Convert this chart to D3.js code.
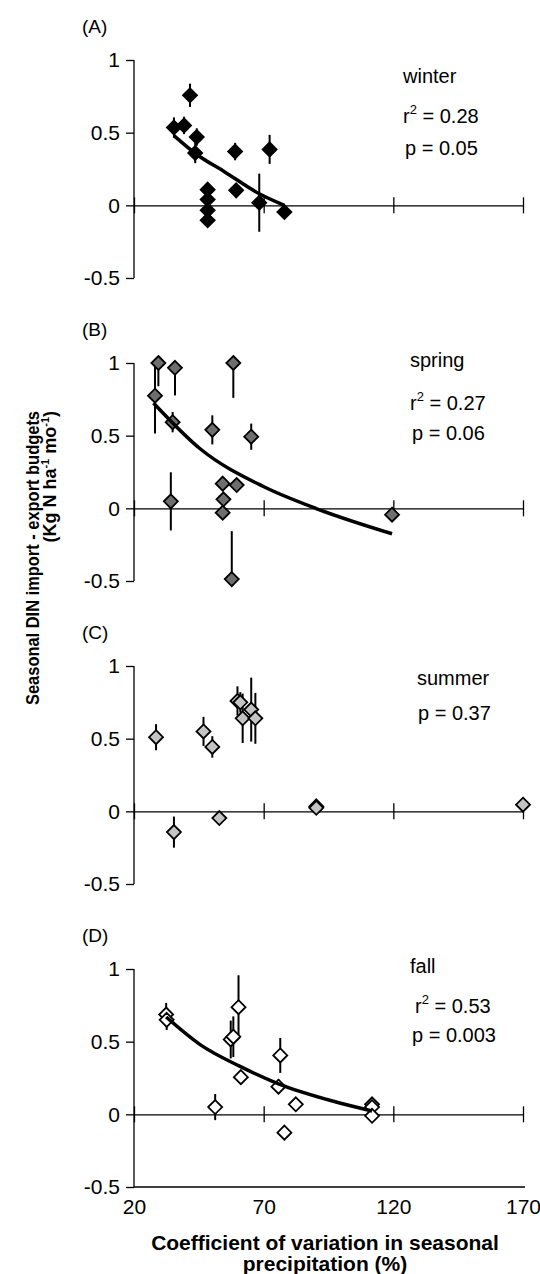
<!DOCTYPE html>
<html><head><meta charset="utf-8">
<script src="https://cdn.jsdelivr.net/npm/d3@7"></script>
<style>
body{margin:0;background:#fff}
text{font-family:"Liberation Sans",Arial,Helvetica,sans-serif;fill:#000}
</style>
</head><body>
<svg id="chart" width="540" height="1274"></svg>
<script>
// ---------- data ----------
const xTicks = [20, 70, 120, 170];
const yTicks = [1, 0.5, 0, -0.5];
const yTickLabels = ["1", "0.5", "0", "-0.5"];
const panelLabels = ["(A)", "(B)", "(C)", "(D)"];
const seasons = ["winter", "spring", "summer", "fall"];
const r2Values = ["0.28", "0.27", null, "0.53"];
const pValues = ["0.05", "0.06", "0.37", "0.003"];

const winterCV  = [35.4, 39.3, 41.6, 44.2, 43.6, 48.4, 48.4, 48.4, 48.4, 59.0, 59.4, 68.3, 72.3, 78.0];
const winterDIN = [0.535, 0.55, 0.757, 0.47, 0.36, 0.108, 0.04, -0.034, -0.103, 0.37, 0.103, 0.018, 0.385, -0.046];
const winterErr = [0.07, 0.06, 0.08, 0.06, 0.07, 0, 0, 0, 0, 0.06, 0, 0.2, 0.1, 0];

const springCV  = [29.4, 28.1, 35.8, 34.9, 34.2, 50.2, 58.3, 54.2, 59.6, 54.5, 54.2, 57.7, 65.2, 119.5];
const springDIN = [1.0, 0.775, 0.967, 0.593, 0.048, 0.54, 1.0, 0.17, 0.16, 0.062, -0.03, -0.487, 0.493, -0.044];
const springErr = [0.16, 0.26, 0.19, 0.07, 0.2, 0.1, 0.24, 0, 0, 0, 0, 0.33, 0.09, 0];

const summerCV  = [28.5, 35.4, 46.8, 50.2, 52.9, 59.9, 61.0, 61.9, 65.2, 66.8, 90.3, 90.3, 170.0];
const summerDIN = [0.51, -0.143, 0.55, 0.443, -0.046, 0.76, 0.75, 0.64, 0.70, 0.64, 0.034, 0.024, 0.046];
const summerErr = [0.09, 0.107, 0.1, 0.074, 0, 0.1, 0.07, 0.17, 0.22, 0.175, 0, 0, 0];

const fallCV  = [32.4, 32.6, 51.3, 57.3, 58.3, 60.3, 61.2, 76.4, 75.7, 82.4, 78.0, 111.8, 111.8, 111.8];
const fallDIN = [0.687, 0.65, 0.05, 0.515, 0.534, 0.737, 0.256, 0.405, 0.19, 0.069, -0.126, 0.069, 0.05, -0.01];
const fallErr = [0.08, 0.07, 0.09, 0.13, 0.14, 0.22, 0, 0.12, 0.05, 0, 0, 0, 0, 0];

// fitted curves, sample points
const winterFitCV  = [35.4, 44.2, 55.0, 68.3, 78.0];
const winterFitDIN = [0.48, 0.35, 0.23, 0.08, 0.0];
const springFitCV  = [27.5, 45.5, 69.9, 90.5, 119.5];
const springFitDIN = [0.725, 0.41, 0.15, -0.003, -0.175];
const fallFitCV    = [32.4, 45.5, 60.9, 75.7, 96.9, 111.8];
const fallFitDIN   = [0.67, 0.48, 0.33, 0.21, 0.09, 0.023];

// ---------- build ----------
const panels = [
  {cv: winterCV, din: winterDIN, err: winterErr, fitX: winterFitCV, fitY: winterFitDIN},
  {cv: springCV, din: springDIN, err: springErr, fitX: springFitCV, fitY: springFitDIN},
  {cv: summerCV, din: summerDIN, err: summerErr, fitX: null, fitY: null},
  {cv: fallCV, din: fallDIN, err: fallErr, fitX: fallFitCV, fitY: fallFitDIN}
];
const fills = ["#000000", "#6e6e6e", "#c4c4c4", "#ffffff"];
const annot = [
  {x: 403, s: 23, r: 63, p: 95, rx: 403, px: 405},
  {x: 410, s: 4, r: 47, p: 77, rx: 410, px: 412},
  {x: 417, s: 19, r: null, p: 54, rx: 417, px: 418},
  {x: 410, s: 4, r: 44, p: 73, rx: 415, px: 412}
];

const svg = d3.select("#chart");
const x = d3.scaleLinear().domain([20, 170]).range([134, 523]);
const panelTop = i => 60 + i * 303;
const panelH = 218;
const diamond = r => `M0,${-r}L${r},0L0,${r}L${-r},0Z`;
const FONT = "Liberation Sans, Arial, sans-serif";

panels.forEach((p, i) => {
  const top = panelTop(i);
  const y = d3.scaleLinear().domain([-0.5, 1]).range([top + panelH, top]);
  const g = svg.append("g");

  // panel label
  g.append("text").attr("x", 82).attr("y", top - 27).attr("font-size", 19).text(panelLabels[i]);

  // y axis
  const yAxis = d3.axisLeft(y).tickValues(yTicks).tickSize(8).tickPadding(6)
    .tickFormat((d, k) => yTickLabels[k]);
  const ya = g.append("g").attr("transform", `translate(${x(20)},0)`).call(yAxis);
  ya.select(".domain").attr("d", `M0,${y(1)}V${y(-0.5)}`).attr("stroke", "#000").attr("stroke-width", 1.3);
  ya.selectAll(".tick line").attr("stroke", "#000").attr("stroke-width", 1.3);
  ya.selectAll(".tick text").attr("font-size", 21).attr("font-family", FONT).attr("fill", "#000");

  // x axis at y = 0 with crossing ticks
  const xa = g.append("g").attr("transform", `translate(0,${y(0)})`)
    .call(d3.axisBottom(x).tickValues(xTicks).tickSize(0).tickFormat(""));
  xa.select(".domain").attr("stroke", "#000").attr("stroke-width", 1.3);
  xa.selectAll(".tick line").attr("y1", -8).attr("y2", 8).attr("stroke", "#000").attr("stroke-width", 1.3);

  // bottom axis for last panel
  if (i === 3) {
    const xb = g.append("g").attr("transform", `translate(0,${y(-0.5)})`)
      .call(d3.axisBottom(x).tickValues(xTicks).tickSize(0).tickPadding(12).tickFormat(d3.format("d")));
    xb.select(".domain").attr("d", `M${x(20)},0H${x(170) + 2}`).attr("stroke", "#000").attr("stroke-width", 1.3);
    xb.selectAll(".tick text").attr("font-size", 21).attr("font-family", FONT).attr("fill", "#000");
  }

  const pts = p.cv.map((c, k) => ({cv: c, din: p.din[k], err: p.err[k]}));

  // error bars
  g.append("g").selectAll("line").data(pts.filter(d => d.err > 0)).join("line")
    .attr("x1", d => x(d.cv)).attr("x2", d => x(d.cv))
    .attr("y1", d => y(Math.min(1, d.din + d.err)))
    .attr("y2", d => y(Math.max(-0.5, d.din - d.err)))
    .attr("stroke", "#000").attr("stroke-width", 2);

  // points
  g.append("g").selectAll("path").data(pts).join("path")
    .attr("transform", d => `translate(${x(d.cv)},${y(d.din)})`)
    .attr("d", diamond(7))
    .attr("fill", fills[i]).attr("stroke", "#000").attr("stroke-width", 1.8);

  // fitted curve
  if (p.fitX) {
    const fit = p.fitX.map((c, k) => [c, p.fitY[k]]);
    g.append("path").datum(fit)
      .attr("d", d3.line().x(d => x(d[0])).y(d => y(d[1])).curve(d3.curveMonotoneX))
      .attr("fill", "none").attr("stroke", "#000").attr("stroke-width", 3.5);
  }

  // annotations
  const a = annot[i];
  g.append("text").attr("x", a.x).attr("y", top + a.s).attr("font-size", 20).text(seasons[i]);
  if (r2Values[i]) {
    const t = g.append("text").attr("x", a.rx).attr("y", top + a.r).attr("font-size", 20);
    t.append("tspan").text("r");
    t.append("tspan").attr("dy", -9).attr("font-size", 13).text("2");
    t.append("tspan").attr("dy", 9).text(" = " + r2Values[i]);
  }
  g.append("text").attr("x", a.px).attr("y", top + a.p).attr("font-size", 20).text("p = " + pValues[i]);
});

// axis titles
const xt = svg.append("text").attr("text-anchor", "middle").attr("font-weight", "bold").attr("font-size", 21);
xt.append("tspan").attr("x", 325).attr("y", 1250).text("Coefficient of variation in seasonal");
xt.append("tspan").attr("x", 325).attr("y", 1271).text("precipitation (%)");

svg.append("text").attr("transform", "translate(39,411) rotate(-90)")
  .attr("text-anchor", "end").attr("font-weight", "bold").attr("font-size", 17.5)
  .attr("textLength", 294).attr("lengthAdjust", "spacingAndGlyphs")
  .text("Seasonal DIN import - export budgets");
const yt2 = svg.append("text").attr("transform", "translate(56,411) rotate(-90)")
  .attr("text-anchor", "end").attr("font-weight", "bold").attr("font-size", 18);
yt2.append("tspan").text("(Kg N ha");
yt2.append("tspan").attr("dy", -7).attr("font-size", 11).text("-1");
yt2.append("tspan").attr("dy", 7).text(" mo");
yt2.append("tspan").attr("dy", -7).attr("font-size", 11).text("-1");
yt2.append("tspan").attr("dy", 7).text(")");
</script>
</body></html>
